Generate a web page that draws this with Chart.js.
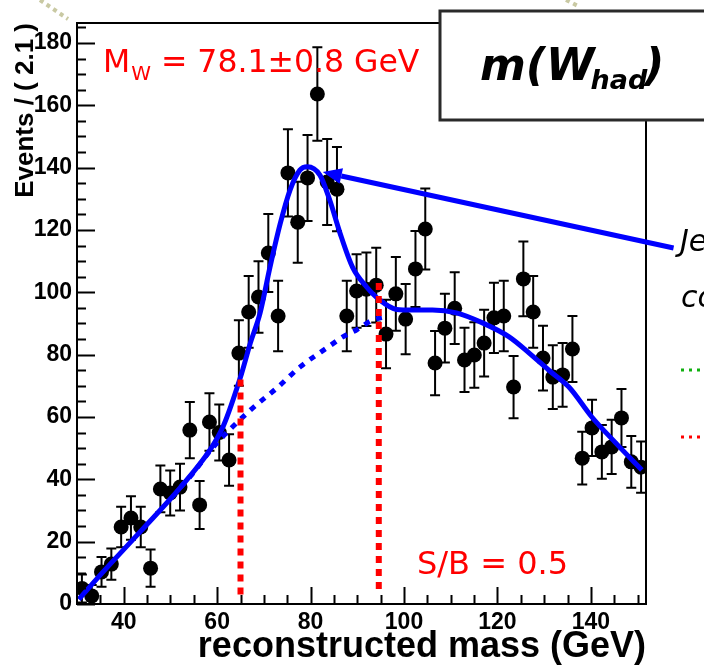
<!DOCTYPE html>
<html>
<head>
<meta charset="utf-8">
<script src="https://cdn.jsdelivr.net/npm/chart.js@4.4.0/dist/chart.umd.min.js"></script>
<style>
  html, body { margin: 0; padding: 0; background: #fff; }
</style>
</head>
<body>
<canvas id="mychart" width="704" height="668"></canvas>
<script>
// bin centres (GeV), 2.1 GeV bins
var massBins = [31.05, 33.15, 35.25, 37.35, 39.45, 41.55, 43.65, 45.75, 47.85, 49.95,
    52.05, 54.15, 56.25, 58.35, 60.45, 62.55, 64.65, 66.75, 68.85, 70.95,
    73.05, 75.15, 77.25, 79.35, 81.45, 83.55, 85.65, 87.75, 89.85, 91.95,
    94.05, 96.15, 98.25, 100.35, 102.45, 104.55, 106.65, 108.75, 110.85, 112.95,
    115.05, 117.15, 119.25, 121.35, 123.45, 125.55, 127.65, 129.75, 131.85, 133.95,
    136.05, 138.15, 140.25, 142.35, 144.45, 146.55, 148.65, 150.75];

var events = [5, 2.6, 10.3, 12.8, 24.7, 27.6, 24.7, 11.5, 36.9, 35.6,
    37.5, 55.8, 31.8, 58.4, 55, 46.2, 80.5, 93.7, 98.5, 112.6,
    92.4, 138.3, 122.5, 136.7, 163.6, 135.4, 133.1, 92.4, 100.4, 101,
    102.3, 86.6, 99.5, 91.4, 107.5, 120.3, 77.3, 88.5, 94.9, 78.3,
    79.9, 83.7, 91.8, 92.4, 69.6, 104.3, 93.7, 78.9, 72.8, 73.5,
    81.8, 46.8, 56.5, 48.8, 50.4, 59.7, 45.6, 43.9];

var errors = [4.5, 3.5, 4.8, 5, 6.5, 7, 6.5, 6, 7.5, 7.2,
    7.5, 9, 7.7, 9.2, 9, 8.3, 10.5, 11.5, 11.5, 12.5,
    11.3, 14, 13, 13.8, 15, 13.8, 13.5, 11.3, 11.8, 11.8,
    12, 11, 11.8, 11.3, 12.2, 13, 10.3, 11, 11.5, 10.3,
    10.5, 10.7, 11.3, 11.3, 10, 12, 11.5, 10.4, 10.2, 10.2,
    10.6, 8.5, 9, 8.6, 8.7, 9.3, 8.3, 8.2];

// total fit (signal + background)
var fitMass = [30.4, 35.1, 43.6, 52.2, 58.5, 61.3, 65, 67.1, 69.2, 71.3,
    73.5, 75.6, 77.7, 79.3, 82, 84.1, 86.3, 89, 92, 94.8,
    98.4, 101.8, 106.1, 111.2, 116.8, 122.5, 126.8, 131, 135.3, 140.2,
    145.3, 150.9];
var fitTotal = [1.5, 9.5, 23.3, 37.5, 49.5, 57, 72.8, 83.7, 93.4, 108,
    122, 132.8, 139.2, 140.3, 137.6, 129.6, 119, 108, 101.7, 97.5,
    94.5, 94.3, 94.3, 93.4, 90.2, 85.7, 80.5, 75, 69.6, 60,
    51.7, 43];

// background only
var bkgMass = [52.2, 54.3, 59.2, 67.1, 72.8, 77.7, 84.1, 86.9, 89.9, 93.3, 96.3];
var bkgValues = [37.5, 41, 50.4, 62.2, 69.3, 76, 82.8, 85.7, 88, 91.1, 92.2];

// mass window
var windowEdges = [65, 94.6];
var windowTops = [72, 103];

var xTickLabels = [40, 60, 80, 100, 120, 140];
var yTickLabels = [0, 20, 40, 60, 80, 100, 120, 140, 160, 180];

function xy(xs, ys) {
    return xs.map((v, i) => ({ x: v, y: ys[i] }));
}

const errorBars = {
    id: 'errorBars',
    beforeDatasetsDraw(chart) {
        const { ctx, scales: { x, y } } = chart;
        ctx.save();
        ctx.strokeStyle = '#000';
        ctx.lineWidth = 2;
        massBins.forEach((m, i) => {
            const px = x.getPixelForValue(m);
            const top = y.getPixelForValue(events[i] + errors[i]);
            const bot = y.getPixelForValue(Math.max(0, events[i] - errors[i]));
            ctx.beginPath();
            ctx.moveTo(px, top); ctx.lineTo(px, bot);
            ctx.moveTo(px - 5, top); ctx.lineTo(px + 5, top);
            ctx.moveTo(px - 5, bot); ctx.lineTo(px + 5, bot);
            ctx.stroke();
        });
        ctx.restore();
    }
};

// ROOT style frame with inward ticks
const frame = {
    id: 'frame',
    afterDatasetsDraw(chart) {
        const { ctx, chartArea: a, scales: { x, y } } = chart;
        ctx.save();
        ctx.strokeStyle = '#000';
        ctx.lineWidth = 2;
        ctx.strokeRect(a.left, a.top, a.right - a.left, a.bottom - a.top);
        ctx.beginPath();
        for (let v = 0; v <= 185; v += 5) {
            const py = Math.round(y.getPixelForValue(v)) + 0.5;
            const len = yTickLabels.includes(v) ? 18 : 9;
            ctx.moveTo(a.left, py); ctx.lineTo(a.left + len, py);
        }
        for (let v = 35; v <= 150; v += 5) {
            const px = Math.round(x.getPixelForValue(v)) + 0.5;
            const len = xTickLabels.includes(v) ? 17 : 9;
            ctx.moveTo(px, a.bottom); ctx.lineTo(px, a.bottom - len);
        }
        ctx.stroke();
        ctx.restore();
    }
};

const annotations = {
    id: 'annotations',
    afterDraw(chart) {
        const { ctx, scales: { x, y } } = chart;
        ctx.save();

        // faint dotted decorations at the top
        ctx.strokeStyle = '#c9c9a3';
        ctx.lineWidth = 4;
        ctx.setLineDash([4, 4]);
        ctx.beginPath();
        ctx.moveTo(40, 0); ctx.lineTo(68, 19);
        ctx.moveTo(566, 0); ctx.lineTo(580, 7);
        ctx.stroke();
        ctx.setLineDash([]);

        // title box
        ctx.fillStyle = '#fff';
        ctx.fillRect(440, 11, 300, 109);
        ctx.strokeStyle = '#2a2a2a';
        ctx.lineWidth = 3;
        ctx.strokeRect(440, 11, 300, 109);

        ctx.fillStyle = '#000';
        ctx.textBaseline = 'alphabetic';
        ctx.font = 'italic bold 44px "DejaVu Sans"';
        let tx = 480;
        ctx.fillText('m(W', tx, 80);
        tx += ctx.measureText('m(W').width - 4;
        ctx.font = 'italic bold 27px "DejaVu Sans"';
        ctx.fillText('had', tx, 89);
        tx += ctx.measureText('had').width - 3;
        ctx.font = 'italic bold 44px "DejaVu Sans"';
        ctx.fillText(')', tx, 80);

        // fitted mass
        ctx.fillStyle = '#ff0000';
        ctx.font = '31.5px "DejaVu Sans"';
        ctx.fillText('M', 103, 72);
        let mx = 103 + ctx.measureText('M').width + 1;
        ctx.font = '20px "DejaVu Sans"';
        ctx.fillText('W', mx, 80);
        mx += ctx.measureText('W').width;
        ctx.font = '31.5px "DejaVu Sans"';
        ctx.fillText(' = 78.1\u00b10.8 GeV', mx, 72);

        ctx.font = '32px "DejaVu Sans"';
        ctx.fillText('S/B = 0.5', 417, 574);

        // arrow to the peak
        const tail = { x: x.getPixelForValue(157.7), y: y.getPixelForValue(114.2) };
        const tip = { x: x.getPixelForValue(82.6), y: y.getPixelForValue(138.6) };
        const ang = Math.atan2(tip.y - tail.y, tip.x - tail.x);
        const hl = 19, hw = 8;
        const bx = tip.x - hl * Math.cos(ang), by = tip.y - hl * Math.sin(ang);
        ctx.strokeStyle = '#0000ff';
        ctx.fillStyle = '#0000ff';
        ctx.lineWidth = 5;
        ctx.beginPath();
        ctx.moveTo(tail.x, tail.y); ctx.lineTo(bx, by);
        ctx.stroke();
        ctx.beginPath();
        ctx.moveTo(tip.x, tip.y);
        ctx.lineTo(bx + hw * Math.sin(ang), by - hw * Math.cos(ang));
        ctx.lineTo(bx - hw * Math.sin(ang), by + hw * Math.cos(ang));
        ctx.closePath();
        ctx.fill();

        // legend text cut by the right edge
        ctx.fillStyle = '#000';
        ctx.font = 'italic 30px "DejaVu Sans"';
        ctx.fillText('Jet', 680, 251);
        ctx.fillText('co', 681, 307);
        ctx.lineWidth = 3;
        ctx.setLineDash([3, 5]);
        ctx.strokeStyle = '#10b010';
        ctx.beginPath(); ctx.moveTo(681, 370); ctx.lineTo(704, 370); ctx.stroke();
        ctx.strokeStyle = '#ff0000';
        ctx.beginPath(); ctx.moveTo(681, 437); ctx.lineTo(704, 437); ctx.stroke();

        ctx.restore();
    }
};

var myChart = new Chart(document.getElementById('mychart'), {
    type: 'scatter',
    data: {
        datasets: [{
            label: 'window low',
            data: [{ x: windowEdges[0], y: windowTops[0] }, { x: windowEdges[0], y: 3 }],
            showLine: true,
            borderColor: '#ff0000',
            borderWidth: 6,
            borderDash: [7, 6],
            pointRadius: 0,
            order: 0
        }, {
            label: 'window high',
            data: [{ x: windowEdges[1], y: windowTops[1] }, { x: windowEdges[1], y: 3 }],
            showLine: true,
            borderColor: '#ff0000',
            borderWidth: 6,
            borderDash: [7, 6],
            pointRadius: 0,
            order: 0
        }, {
            label: 'fit',
            data: xy(fitMass, fitTotal),
            showLine: true,
            borderColor: '#0000ff',
            borderWidth: 5,
            cubicInterpolationMode: 'monotone',
            pointRadius: 0,
            order: 1
        }, {
            label: 'background',
            data: xy(bkgMass, bkgValues),
            showLine: true,
            borderColor: '#0000ff',
            borderWidth: 5,
            borderDash: [6, 7],
            cubicInterpolationMode: 'monotone',
            pointRadius: 0,
            order: 2
        }, {
            label: 'data',
            data: xy(massBins, events),
            pointRadius: 7.5,
            pointBackgroundColor: '#000',
            pointBorderWidth: 0,
            order: 3
        }]
    },
    options: {
        responsive: false,
        animation: false,
        events: [],
        devicePixelRatio: 1,
        layout: { padding: { top: 23, right: 58, left: 0, bottom: 0 } },
        plugins: {
            legend: { display: false },
            tooltip: { enabled: false }
        },
        scales: {
            x: {
                type: 'linear',
                min: 30,
                max: 151.8,
                grid: { display: false, drawTicks: false },
                border: { display: false },
                afterBuildTicks: s => { s.ticks = xTickLabels.map(v => ({ value: v })); },
                afterFit: s => { s.height = 64; },
                ticks: {
                    padding: 5,
                    maxRotation: 0,
                    autoSkip: false,
                    color: '#000',
                    font: { family: '"Liberation Sans"', size: 23, weight: 'bold' }
                },
                title: {
                    display: true,
                    text: 'reconstructed mass (GeV)',
                    align: 'end',
                    color: '#000',
                    padding: { top: 0, bottom: 3 },
                    font: { family: '"Liberation Sans"', size: 36, weight: 'bold', lineHeight: 1 }
                }
            },
            y: {
                min: 0,
                max: 186.4,
                grid: { display: false, drawTicks: false },
                border: { display: false },
                afterBuildTicks: s => { s.ticks = yTickLabels.map(v => ({ value: v })); },
                afterFit: s => { s.width = 77; },
                ticks: {
                    padding: 5,
                    autoSkip: false,
                    color: '#000',
                    font: { family: '"Liberation Sans"', size: 23, weight: 'bold' }
                },
                title: {
                    display: true,
                    text: 'Events / ( 2.1 )',
                    align: 'end',
                    color: '#000',
                    padding: { top: 13, bottom: 0 },
                    font: { family: '"Liberation Sans"', size: 26, weight: 'bold', lineHeight: 1 }
                }
            }
        }
    },
    plugins: [errorBars, frame, annotations]
});
</script>
</body>
</html>
